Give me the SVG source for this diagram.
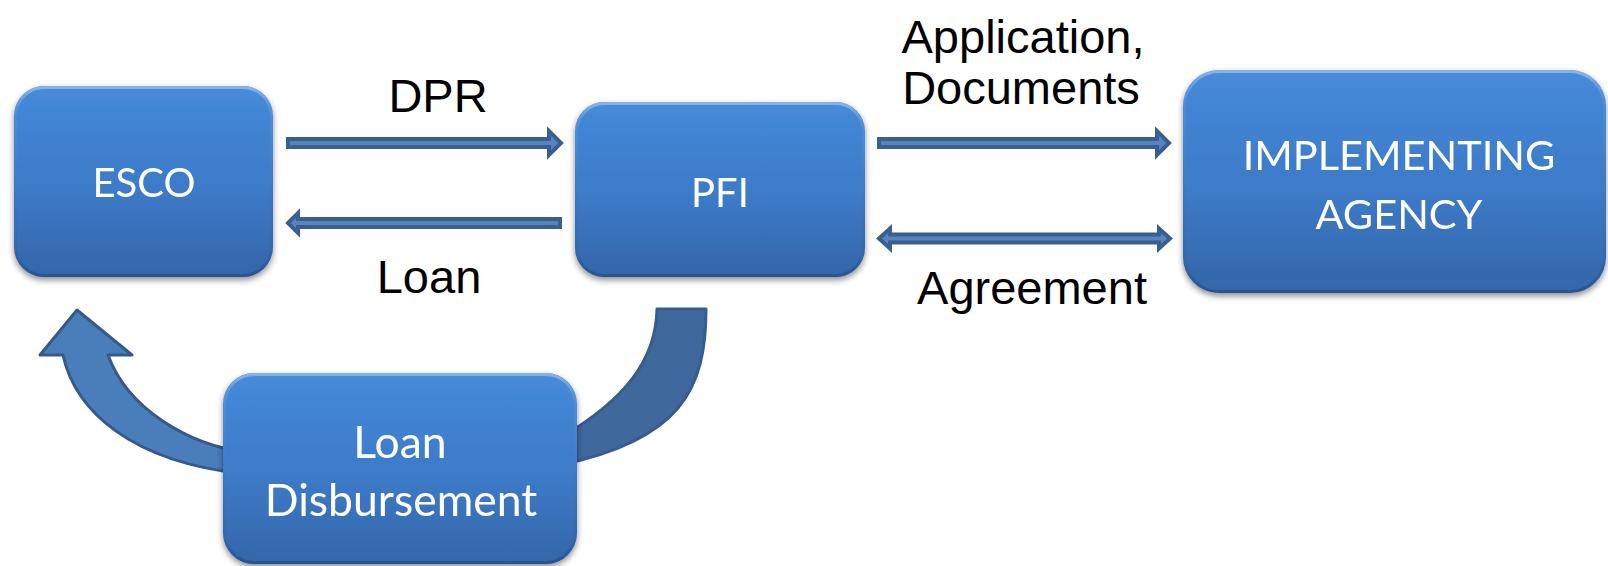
<svg xmlns="http://www.w3.org/2000/svg" width="1608" height="566" viewBox="0 0 1608 566">
  <defs>
    <linearGradient id="boxGrad" x1="0" y1="0" x2="0" y2="1">
      <stop offset="0" stop-color="#4a8bd9"/>
      <stop offset="0.12" stop-color="#4386d6"/>
      <stop offset="0.55" stop-color="#3c7ac7"/>
      <stop offset="1" stop-color="#3466a9"/>
    </linearGradient>
    <linearGradient id="edgeGrad" x1="0" y1="0" x2="0" y2="1">
      <stop offset="0" stop-color="#8ab8ee" stop-opacity="0.9"/>
      <stop offset="0.15" stop-color="#5f9ae0" stop-opacity="0.3"/>
      <stop offset="0.85" stop-color="#2c5a96" stop-opacity="0.2"/>
      <stop offset="1" stop-color="#264f86" stop-opacity="0.8"/>
    </linearGradient>
    <filter id="shadow" x="-10%" y="-10%" width="120%" height="125%">
      <feGaussianBlur in="SourceAlpha" stdDeviation="3"/>
      <feOffset dx="0" dy="3" result="b"/>
      <feComponentTransfer><feFuncA type="linear" slope="0.45"/></feComponentTransfer>
      <feMerge><feMergeNode/><feMergeNode in="SourceGraphic"/></feMerge>
    </filter>
  </defs>
  <style>
    .box { fill: url(#boxGrad); }
    .bevel { fill: none; stroke: url(#edgeGrad); stroke-width: 3; }
    .btext { font-family: Lato, "Open Sans", sans-serif; font-size: 40px; fill: #ffffff; text-anchor: middle; }
    .big { font-size: 44.5px; }
    .mid { font-size: 41.5px; }
    .label { font-family: "Liberation Sans", Arial, sans-serif; font-size: 47px; fill: #000000; text-anchor: middle; }
    .arrow { fill: #5584be; stroke: #3a5f8f; stroke-width: 4; stroke-linejoin: miter; }
    .curveL { fill: #4a7ebb; stroke: #36598a; stroke-width: 3; stroke-linejoin: round; }
    .curveR { fill: #3f689c; stroke: #385d8c; stroke-width: 3; stroke-linejoin: round; }
  </style>
  <rect width="1608" height="566" fill="#ffffff"/>

  <g id="connectors">
    <path class="curveR" d="M657,309 L706,309 C706,390 680,440 560,465 L560,438 C625,400 656,360 657,309 Z"/>
    <path class="curveL" d="M245,452 C190,445 128,410 108,355 L132,355 L77,310 L40,355 L63,355 C75,410 130,462 245,474 Z"/>
    <path class="arrow" d="M288,139 L549,139 L549,131 L561,143 L549,155 L549,147 L288,147 Z"/>
    <path class="arrow" d="M560,219 L298,219 L298,213 L288,223 L298,233 L298,227 L560,227 Z"/>
    <path class="arrow" d="M879,139 L1157,139 L1157,131 L1169,143 L1157,155 L1157,147 L879,147 Z"/>
    <path class="arrow" d="M879,238.5 L890,228.5 L890,234.5 L1159,234.5 L1159,228.5 L1170,238.5 L1159,248.5 L1159,242.5 L890,242.5 L890,248.5 Z"/>
    <text class="label" x="438" y="112">DPR</text>
    <text class="label" x="429" y="293">Loan</text>
    <text class="label" x="1023" y="53">Application,</text>
    <text class="label" x="1021" y="104">Documents</text>
    <text class="label" x="1032" y="304">Agreement</text>
  </g>

  <g id="esco" filter="url(#shadow)">
    <rect class="box" x="14" y="86" width="259" height="191" rx="30" ry="30"/>
    <rect class="bevel" x="15.5" y="87.5" width="256" height="188" rx="29" ry="29"/>
    <text class="btext" x="144" y="197">ESCO</text>
  </g>

  <g id="pfi" filter="url(#shadow)">
    <rect class="box" x="575" y="102" width="290" height="175" rx="29" ry="29"/>
    <rect class="bevel" x="576.5" y="103.5" width="287" height="172" rx="28" ry="28"/>
    <text class="btext" x="720" y="207">PFI</text>
  </g>

  <g id="implementing-agency" filter="url(#shadow)">
    <rect class="box" x="1183" y="70" width="423" height="223" rx="36" ry="36"/>
    <rect class="bevel" x="1184.5" y="71.5" width="420" height="220" rx="35" ry="35"/>
    <text class="btext mid" x="1399" y="170">IMPLEMENTING</text>
    <text class="btext mid" x="1399" y="229">AGENCY</text>
  </g>

  <g id="loan-disbursement" filter="url(#shadow)">
    <rect class="box" x="223" y="373" width="354" height="191" rx="31" ry="31"/>
    <rect class="bevel" x="224.5" y="374.5" width="351" height="188" rx="30" ry="30"/>
    <text class="btext big" x="400" y="458">Loan</text>
    <text class="btext big" x="401" y="516">Disbursement</text>
  </g>
</svg>
